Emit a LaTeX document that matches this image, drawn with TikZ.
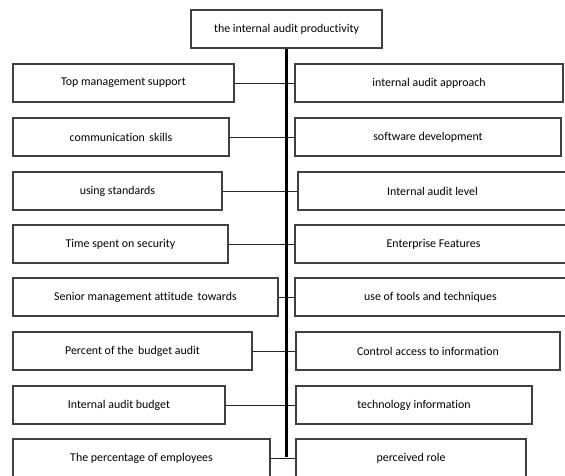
\documentclass[tikz,border=0pt]{standalone}
\usepackage{fontspec}
\setmainfont{Carlito}[Ligatures=NoCommon]

\begin{document}
\begin{tikzpicture}[x=1pt,y=-1pt,
    box/.style={draw=black!75,line width=1.1pt,fill=white,minimum height=38pt,inner sep=0pt,
        font=\fontsize{11.9}{14}\selectfont},
    link/.style={draw=black!85,line width=0.9pt},
    spine/.style={draw=black,line width=2.6pt}]
    \useasboundingbox (0,0) rectangle (565,475);
    \clip (0,0) rectangle (565,475);

    % Main factor
    \node[box,minimum width=191pt] (top) at (286.5,29) {the internal audit productivity};

    % Left column
    \node[box,minimum width=221pt] (l1) at (123.5,83) {Top management support};
    \node[box,minimum width=216pt] (l2) at (121,137) {communication\, skills};
    \node[box,minimum width=209pt] (l3) at (117.5,191) {using standards};
    \node[box,minimum width=215pt] (l4) at (120.5,244) {Time spent on security};
    \node[box,minimum width=265pt] (l5) at (145.5,297) {Senior management attitude\, towards};
    \node[box,minimum width=239pt] (l6) at (132.5,351) {Percent of the\, budget audit};
    \node[box,minimum width=212pt] (l7) at (119,405) {Internal audit budget};
    \node[box,minimum width=257pt] (l8) at (141.5,458) {The percentage of employees};

    % Right column
    \node[box,minimum width=268pt] (r1) at (429,83) {internal audit approach};
    \node[box,minimum width=266pt] (r2) at (428,137) {software development};
    \node[box,minimum width=269pt] (r3) at (432.5,191) {Internal audit level};
    \node[box,minimum width=277pt] (r4) at (433.5,244) {Enterprise Features};
    \node[box,minimum width=271pt] (r5) at (430.5,297) {use of tools and techniques};
    \node[box,minimum width=264pt] (r6) at (428,351) {Control access to information};
    \node[box,minimum width=236pt] (r7) at (414,405) {technology information};
    \node[box,minimum width=230pt] (r8) at (411,458) {perceived role};

    % Row links
    \draw[link] (l1.east) -- (r1.west);
    \draw[link] (l2.east) -- (r2.west);
    \draw[link] (l3.east) -- (r3.west);
    \draw[link] (l4.east) -- (r4.west);
    \draw[link] (l5.east) -- (r5.west);
    \draw[link] (l6.east) -- (r6.west);
    \draw[link] (l7.east) -- (r7.west);
    \draw[link] (l8.east) -- (r8.west);

    % Spine
    \coordinate (spineend) at (287,457);
    \draw[spine] (top.south) -- (top.south |- spineend);
\end{tikzpicture}
\end{document}
